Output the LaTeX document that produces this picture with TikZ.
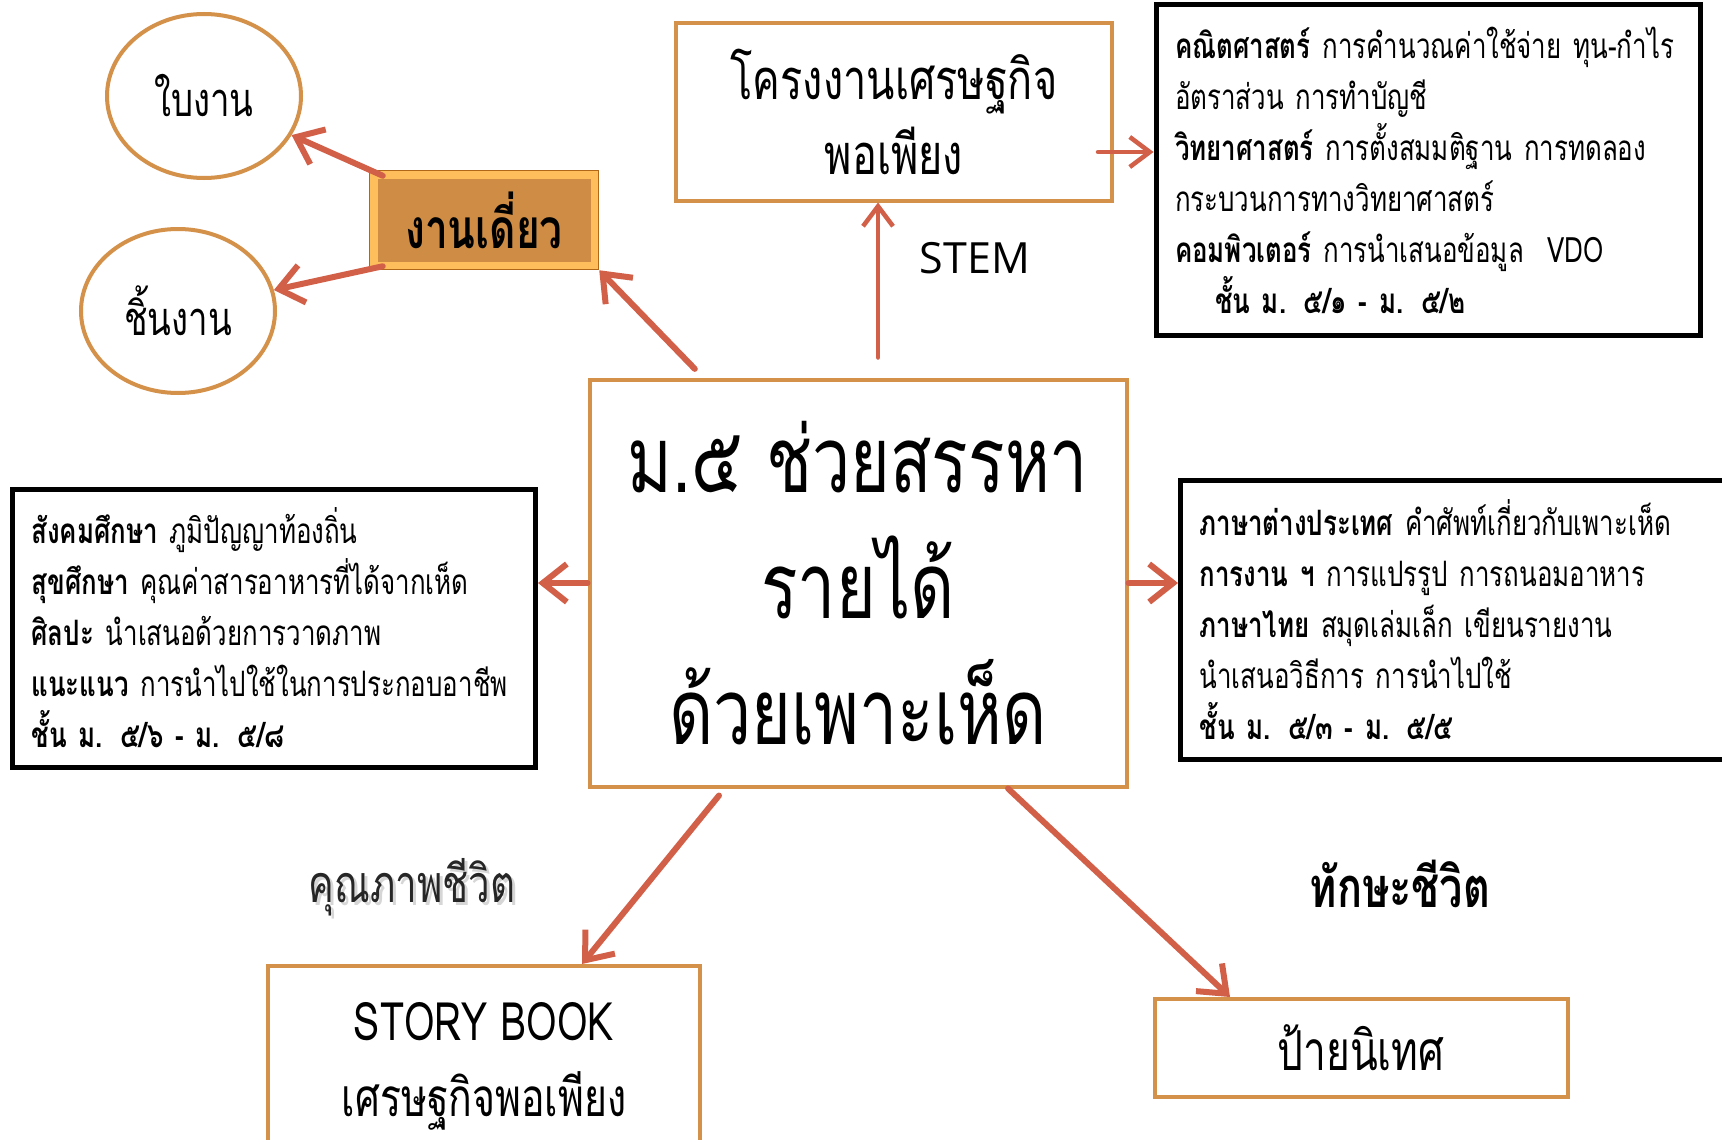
\documentclass[tikz,border=0pt]{standalone}
\usepackage{fontspec}
\setmainfont[Script=Thai,FakeStretch=0.74]{Loma}
\newfontfamily\stemfont{Open Sans}
\usetikzlibrary{arrows.meta,shapes.geometric,positioning,calc}
\definecolor{boxorange}{RGB}{212,145,74}
\definecolor{arrowred}{RGB}{210,96,72}
\definecolor{solofill}{RGB}{206,140,68}
\definecolor{soloedge}{RGB}{255,190,92}
\definecolor{solodark}{RGB}{176,104,24}
\newcommand{\thaisize}[2]{\fontsize{#1}{#2}\selectfont\lineskiplimit=-100pt}
\pgfdeclareradialshading{slidebg}{\pgfpoint{0bp}{0bp}}{color(0bp)=(white); color(32bp)=(white); color(50bp)=(black!10)}

\begin{document}
\begin{tikzpicture}[x=1pt,y=-1pt,topic/.style={rectangle,draw=boxorange,line width=4pt,fill=white,align=center}, bubble/.style={ellipse,draw=boxorange,line width=4pt,fill=white,inner sep=0pt,minimum width=194pt,minimum height=164pt,font=\thaisize{47}{50}}, subject/.style={rectangle,draw=black,line width=5pt,fill=white,align=left,inner xsep=19pt,font=\thaisize{35}{51}}, solo/.style={rectangle,draw=solodark,line width=1.5pt,fill=soloedge,minimum width=229pt,minimum height=99pt,font=\thaisize{55}{60}\bfseries,path picture={\fill[solofill] ([shift={(8pt,-8pt)}]path picture bounding box.north west) rectangle ([shift={(-8pt,8pt)}]path picture bounding box.south east);}}, edge/.style={line width=6pt,draw=arrowred,line cap=round,-{Straight Barb[length=24pt,width=38pt]}}, thin edge/.style={edge,line width=4.5pt,-{Straight Barb[length=20pt,width=30pt]}}, caption/.style={inner sep=0pt}]
\useasboundingbox (0,0) rectangle (1722,1140);
\clip (0,0) rectangle (1722,1140);
\shade[shading=slidebg] (-150,-700) rectangle (1850,1300);

\node(sheet)[bubble] at (204,96) {ใบงาน};
\node(piece)[bubble] at (178,311) {ชิ้นงาน};
\node(solo)[solo] at (484,220) {งานเดี่ยว};
\node(project)[topic,minimum width=436pt,minimum height=177pt,font=\thaisize{56}{75}] at (894,112) {โครงงานเศรษฐกิจ\\พอเพียง};
\node(main)[topic,minimum width=537pt,minimum height=407pt,font=\thaisize{92}{126}] at (858,583) {ม.๕ ช่วยสรรหา\\รายได้\\ด้วยเพาะเห็ด};
\node(maths)[subject,minimum width=544pt,minimum height=331pt,text width=506pt] at (1428,170) {\textbf{คณิตศาสตร์} การคำนวณค่าใช้จ่าย ทุน-กำไร\\อัตราส่วน การทำบัญชี\\\textbf{วิทยาศาสตร์} การตั้งสมมติฐาน การทดลอง\\กระบวนการทางวิทยาศาสตร์\\\textbf{คอมพิวเตอร์} การนำเสนอข้อมูล\ \ VDO\\\hspace*{40pt}\textbf{ชั้น ม. ๕/๑ - ม. ๕/๒}};
\node(social)[subject,minimum width=523pt,minimum height=278pt,text width=485pt] at (274,628) {\textbf{สังคมศึกษา} ภูมิปัญญาท้องถิ่น\\\textbf{สุขศึกษา} คุณค่าสารอาหารที่ได้จากเห็ด\\\textbf{ศิลปะ} นำเสนอด้วยการวาดภาพ\\\textbf{แนะแนว} การนำไปใช้ในการประกอบอาชีพ\\\textbf{ชั้น ม. ๕/๖ - ม. ๕/๘}};
\node(lang)[subject,minimum width=559pt,minimum height=279pt,text width=521pt] at (1460,620) {\textbf{ภาษาต่างประเทศ} คำศัพท์เกี่ยวกับเพาะเห็ด\\\textbf{การงาน ฯ} การแปรรูป การถนอมอาหาร\\\textbf{ภาษาไทย} สมุดเล่มเล็ก เขียนรายงาน\\นำเสนอวิธีการ การนำไปใช้\\\textbf{ชั้น ม. ๕/๓ - ม. ๕/๕}};
\node(story)[topic,minimum width=432pt,minimum height=200pt,font=\thaisize{53}{76}] at (484,1066) {STORY BOOK\\เศรษฐกิจพอเพียง};
\node(board)[topic,minimum width=413pt,minimum height=98pt,font=\thaisize{55}{60}] at (1361,1048) {ป้ายนิเทศ};
\node(stem)[caption,font=\stemfont\fontsize{43}{48}\selectfont] at (975,258) {STEM};
\node(qualityshade)[caption,font=\thaisize{52}{56},text=black!16] at (415,890) {คุณภาพชีวิต};
\node(quality)[caption,font=\thaisize{52}{56},text=black!85] at (412,887) {คุณภาพชีวิต};
\node(skill)[caption,font=\thaisize{56}{60}\bfseries] at (1400,884) {ทักษะชีวิต};

\draw [edge] ([shift={(14pt,-6pt)}]solo.north west) to (sheet);
\draw [edge] ([shift={(14pt,4pt)}]solo.south west) to (piece);
\draw [edge,shorten <=12pt] (main.127) to (solo.south east);
\draw [thin edge,shorten <=20pt] ([xshift=20pt]main.north) to ([xshift=20pt]main.north |- project.south);
\draw [thin edge] ($(project.east)+(-16,40)$) to ($(project.east -| maths.west)+(0,40)$);
\draw [edge] (main.west) to (main.west -| social.east);
\draw [edge] (main.east) to (main.east -| lang.west);
\draw [edge] ($(main.south)+(-139,7)$) to ($(story.north)+(98,0)$);
\draw [edge] ($(main.south)+(150,0)$) to ($(board.north)+(-131,0)$);
\end{tikzpicture}
\end{document}
